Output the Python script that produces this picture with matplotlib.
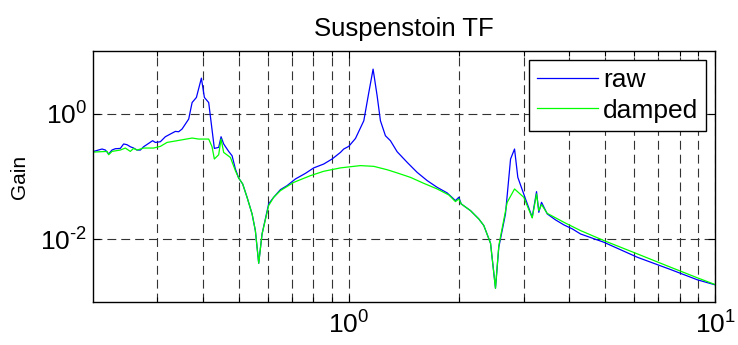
import matplotlib
matplotlib.use("Agg")
import matplotlib.pyplot as plt
from matplotlib.ticker import FixedLocator, FixedFormatter, NullLocator, NullFormatter

plt.rcParams['font.family'] = ['Liberation Sans', 'DejaVu Sans']
plt.rcParams['mathtext.fontset'] = 'custom'
plt.rcParams['mathtext.rm'] = 'Liberation Sans'
plt.rcParams['mathtext.it'] = 'Liberation Sans'
plt.rcParams['mathtext.bf'] = 'Liberation Sans'

title = "Suspenstoin TF"
ylabel = "Gain"
series_names = ["raw", "damped"]

f_raw = [0.2008, 0.2117, 0.2162, 0.2207, 0.2254, 0.2301, 0.2375, 0.2425, 0.2477, 0.2529,
         0.2582, 0.2638, 0.2694, 0.2750, 0.2838, 0.2910, 0.2960, 0.3055, 0.3152, 0.3253,
         0.3357, 0.3428, 0.3502, 0.3651, 0.3730, 0.3832, 0.3954, 0.4030, 0.4140, 0.4290,
         0.4408, 0.4475, 0.4549, 0.4694, 0.4796, 0.4896, 0.4998, 0.5126, 0.5270, 0.5438,
         0.5552, 0.5670, 0.5791, 0.6036, 0.6229, 0.6499, 0.6778, 0.7142, 0.7605, 0.8014,
         0.8535, 0.8996, 0.9480, 0.9678, 0.9988, 1.042, 1.098, 1.133, 1.164, 1.194,
         1.219, 1.258, 1.298, 1.354, 1.442, 1.536, 1.636, 1.742, 1.855, 1.954,
         1.995, 2.026, 2.148, 2.263, 2.335, 2.436, 2.513, 2.566, 2.676, 2.763,
         2.833, 2.892, 3.035, 3.166, 3.253, 3.300, 3.357, 3.479, 3.666, 3.863,
         4.072, 4.291, 4.968, 6.130, 7.557, 8.943, 10.0]
g_raw = [0.251, 0.274, 0.264, 0.228, 0.264, 0.277, 0.280, 0.330, 0.321, 0.298,
         0.284, 0.264, 0.264, 0.298, 0.337, 0.372, 0.349, 0.358, 0.430, 0.475,
         0.523, 0.517, 0.571, 0.824, 1.51, 1.82, 3.70, 1.82, 1.51, 0.280,
         0.291, 0.430, 0.330, 0.251, 0.214, 0.132, 0.0946, 0.0760, 0.0465, 0.0253,
         0.0137, 0.00413, 0.0121, 0.0365, 0.0465, 0.0616, 0.0714, 0.0912, 0.112, 0.137,
         0.158, 0.190, 0.242, 0.274, 0.302, 0.404, 0.774, 2.18, 5.15, 1.93,
         0.774, 0.446, 0.372, 0.248, 0.168, 0.116, 0.0858, 0.0670, 0.0546, 0.0412,
         0.0465, 0.0365, 0.0285, 0.0210, 0.0165, 0.00861, 0.00165, 0.00743, 0.0253, 0.190,
         0.274, 0.0968, 0.0438, 0.0223, 0.0573, 0.0268, 0.0387, 0.0253, 0.0203, 0.0169,
         0.0146, 0.0121, 0.00893, 0.00515, 0.00328, 0.00225, 0.00187]

f_dmp = [0.2008, 0.2185, 0.2207, 0.2254, 0.2375, 0.2451, 0.2529, 0.2582, 0.2638, 0.2750,
         0.2929, 0.3055, 0.3186, 0.3394, 0.3730, 0.3887, 0.4140, 0.4228, 0.4290, 0.4408,
         0.4475, 0.4549, 0.4746, 0.4896, 0.4998, 0.5126, 0.5270, 0.5438, 0.5552, 0.5670,
         0.5791, 0.6036, 0.6229, 0.6499, 0.7067, 0.7848, 0.8535, 0.9480, 1.0094, 1.075,
         1.169, 1.272, 1.354, 1.472, 1.601, 1.742, 1.874, 1.954, 1.995, 2.026,
         2.148, 2.263, 2.335, 2.436, 2.513, 2.566, 2.705, 2.833, 3.003, 3.166,
         3.253, 3.300, 3.357, 3.479, 3.863, 4.291, 4.968, 6.130, 7.557, 8.943, 10.0]
g_dmp = [0.245, 0.251, 0.222, 0.251, 0.264, 0.284, 0.251, 0.280, 0.264, 0.284,
         0.284, 0.302, 0.349, 0.372, 0.410, 0.395, 0.395, 0.298, 0.190, 0.222,
         0.395, 0.242, 0.201, 0.124, 0.0946, 0.0760, 0.0465, 0.0253, 0.0137, 0.00413,
         0.0121, 0.0343, 0.0465, 0.0594, 0.0805, 0.103, 0.121, 0.137, 0.143, 0.149,
         0.145, 0.128, 0.114, 0.0968, 0.0777, 0.0632, 0.0507, 0.0397, 0.0438, 0.0365,
         0.0285, 0.0210, 0.0165, 0.00861, 0.00165, 0.00791, 0.0387, 0.0632, 0.0465, 0.0218,
         0.0526, 0.0285, 0.0356, 0.0258, 0.0186, 0.0137, 0.00950, 0.00583, 0.00357, 0.00242, 0.00189]

x_ticks = [1, 10]
x_ticklabels = [r'$10^{0}$', r'$10^{1}$']
x_minor = [0.3, 0.4, 0.5, 0.6, 0.7, 0.8, 0.9, 2, 3, 4, 5, 6, 7, 8, 9]
y_ticks = [1e-2, 1e0]
y_ticklabels = [r'$10^{\text{-}2}$', r'$10^{0}$']
xlim = (0.2, 10)
ylim = (1e-3, 10)

fig = plt.figure(figsize=(7.38, 3.45), dpi=100)
ax = fig.add_axes([0.126, 0.125, 0.843, 0.727])

ax.plot(f_raw, g_raw, color='#0000FF', lw=0.9, label=series_names[0])
ax.plot(f_dmp, g_dmp, color='#00FF00', lw=0.9, label=series_names[1])

ax.set_xscale('log')
ax.set_yscale('log')
ax.set_xlim(*xlim)
ax.set_ylim(*ylim)

ax.xaxis.set_major_locator(FixedLocator(x_ticks))
ax.xaxis.set_major_formatter(FixedFormatter(x_ticklabels))
ax.xaxis.set_minor_locator(FixedLocator(x_minor))
ax.xaxis.set_minor_formatter(NullFormatter())
ax.yaxis.set_major_locator(FixedLocator(y_ticks))
ax.yaxis.set_major_formatter(FixedFormatter(y_ticklabels))
ax.yaxis.set_minor_locator(NullLocator())

ax.tick_params(which='both', direction='in', top=True, right=True, colors='black')
ax.tick_params(which='major', length=5, width=0.8, labelsize=19)
ax.tick_params(which='minor', length=3.5, width=0.8)
ax.tick_params(axis='x', which='major', pad=7)
ax.tick_params(axis='y', which='major', pad=4)

gridkw = dict(color='#333333', linestyle=(0, (8, 4.5)), linewidth=0.8)
ax.grid(True, which='major', axis='both', **gridkw)
ax.grid(True, which='minor', axis='x', **gridkw)

for s in ax.spines.values():
    s.set_linewidth(1.0)
    s.set_color('black')

ax.set_title(title, fontsize=18.5, pad=11)
ax.set_ylabel(ylabel, fontsize=15, labelpad=8)

leg = ax.legend(loc='upper right', bbox_to_anchor=(0.9855, 0.964), borderaxespad=0,
                fontsize=19, fancybox=False, frameon=True, framealpha=1,
                edgecolor='black', handlelength=2.3, handletextpad=0.2,
                labelspacing=0.25, borderpad=0.3)
leg.get_frame().set_linewidth(1.0)

fig.savefig('out.png', dpi=100)
